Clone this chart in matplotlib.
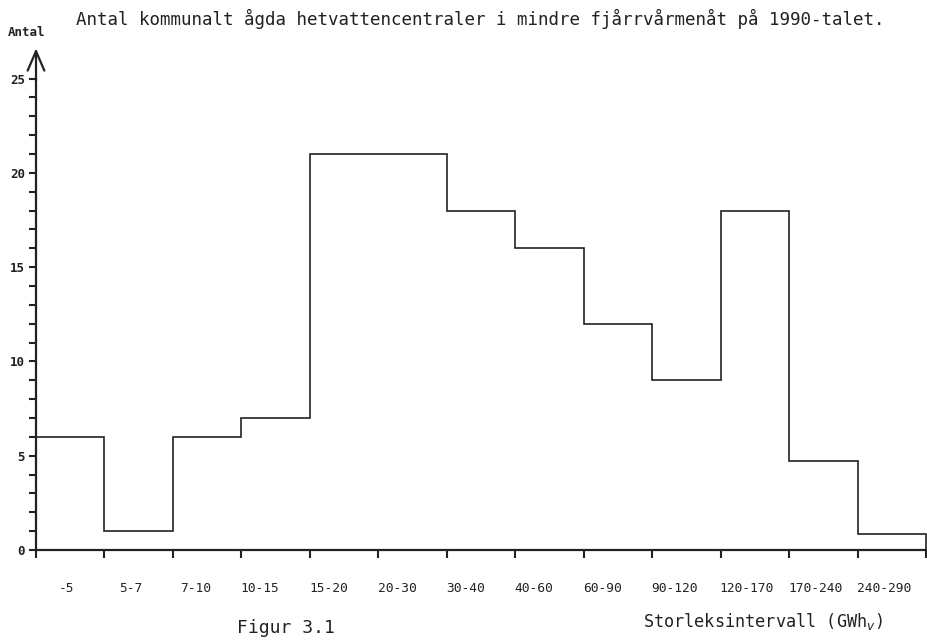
import numpy as np
import matplotlib
matplotlib.use("Agg")
import matplotlib.pyplot as plt
import matplotlib.transforms as mtransforms

categories = ["-5", "5-7", "7-10", "10-15", "15-20", "20-30", "30-40",
              "40-60", "60-90", "90-120", "120-170", "170-240", "240-290"]
counts = [6, 1, 6, 7, 21, 21, 18, 16, 12, 9, 18, 4.7, 0.85]
y_major = [0, 5, 10, 15, 20, 25]

title = "Antal kommunalt ågda hetvattencentraler i mindre fjårrvårmenåt på 1990-talet."

MONO = "DejaVu Sans Mono"
INK = "#222222"

W, H = 927, 640
fig = plt.figure(figsize=(W / 100, H / 100), dpi=100)
fig.patch.set_facecolor("white")
ax = fig.add_axes([36 / W, 1 - 550 / H, 890 / W, 500 / H])

n = len(categories)
edges = np.arange(n + 1)
ax.stairs(counts, edges, baseline=0, color=INK, linewidth=1.2, clip_on=False)

ax.set_xlim(0, n)
ax.set_ylim(0, 500 / 18.86)

for s in ["top", "right"]:
    ax.spines[s].set_visible(False)
ax.spines["left"].set_bounds(0, 25)
for s in ["left", "bottom"]:
    ax.spines[s].set_linewidth(1.6)
    ax.spines[s].set_color(INK)

ax.annotate("", xy=(0, 26.6), xytext=(0, 24.9),
            arrowprops=dict(arrowstyle="->,head_length=0.7,head_width=0.3",
                            color=INK, lw=1.6, mutation_scale=20,
                            shrinkA=0, shrinkB=0),
            annotation_clip=False)

ax.set_yticks(y_major)
ax.set_yticks(np.arange(0, 26), minor=True)
ax.set_yticklabels([str(v) for v in y_major], fontsize=9, fontweight="bold",
                   family=MONO, color=INK)
ax.tick_params(axis="y", which="both", direction="out", length=5, width=1.5,
               color=INK, pad=3)

ax.set_xticks(edges)
ax.set_xticklabels([])
ax.tick_params(axis="x", which="major", direction="out", length=6, width=1.5,
               color=INK)

# category labels: short ones right-aligned in a fixed field, long ones start at the boundary
trans = mtransforms.blended_transform_factory(ax.transData, fig.transFigure)
unit_px = 890 / n
for i, lab in enumerate(categories):
    if len(lab) <= 5:
        ax.text(i + 38 / unit_px, 1 - 588 / H, lab, transform=trans,
                ha="right", va="center", fontsize=9.3, family=MONO, color=INK)
    else:
        ax.text(i - 1 / unit_px, 1 - 588 / H, lab, transform=trans,
                ha="left", va="center", fontsize=9.3, family=MONO, color=INK)

fig.text(76 / W, 1 - 19 / H, title, fontsize=12.6, family=MONO,
         va="center", ha="left", color=INK)
fig.text(8 / W, 1 - 33 / H, "Antal", fontsize=9, fontweight="bold",
         family=MONO, va="center", ha="left", color=INK)
fig.text(643 / W, 1 - 621 / H, "Storleksintervall (GWh$_v$)", fontsize=12.2,
         family=MONO, va="center", ha="left", color=INK)
fig.text(237 / W, 1 - 628 / H, "Figur 3.1", fontsize=13,
         family=MONO, va="center", ha="left", color=INK)

fig.savefig("out.png", dpi=100, facecolor="white")
